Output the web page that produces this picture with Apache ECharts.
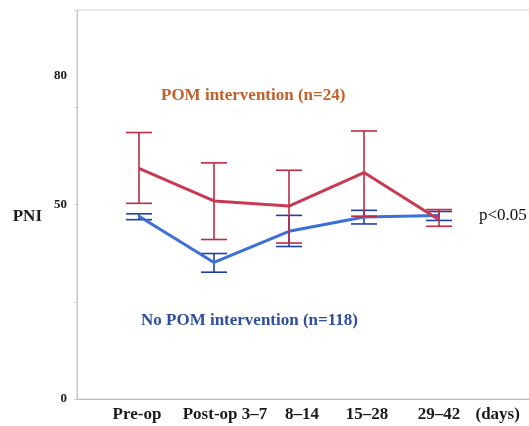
<!DOCTYPE html>
<html>
<head>
<meta charset="utf-8">
<script src="https://cdn.jsdelivr.net/npm/echarts@6/dist/echarts.min.js"></script>
<style>
  html, body { margin: 0; padding: 0; background: #ffffff; }
  #chart { width: 529px; height: 426px; }
</style>
</head>
<body>
<div id="chart"></div>
<script>
// ---- data ----
const categories = ['Pre-op', 'Post-op 3\u20137', '8\u201314', '15\u201328', '29\u201342'];
const pomMean = [59.3, 50.9, 49.6, 58.2, 46.1];
const pomHigh = [68.5, 60.7, 58.8, 68.9, 48.7];
const pomLow  = [50.3, 41.0, 40.1, 47.0, 44.4];
const noPomMean = [47.0, 35.1, 43.1, 46.8, 47.2];
const noPomHigh = [47.6, 37.4, 47.2, 48.5, 48.2];
const noPomLow  = [46.1, 32.6, 39.2, 45.0, 45.9];
const yTickValues = [0, 25, 50, 75, 100];
const yLabelValues = [0, 50, 83];
const yLabelTexts = ['0', '50', '80'];

const SERIF = "'Liberation Serif', 'Times New Roman', serif";
const chart = echarts.init(document.getElementById('chart'), null, { renderer: 'canvas' });

function errorSeries(lows, highs, color, z) {
  return {
    type: 'custom',
    xAxisIndex: 1, yAxisIndex: 1,
    z: z,
    silent: true,
    data: lows.map((lo, i) => [i, lo, highs[i]]),
    renderItem: function (params, api) {
      const i = api.value(0);
      const top = api.coord([i, api.value(2)]);
      const bot = api.coord([i, api.value(1)]);
      const w = 13;
      const st = { stroke: color, lineWidth: 1.6 };
      return {
        type: 'group',
        children: [
          { type: 'line', shape: { x1: top[0], y1: top[1], x2: bot[0], y2: bot[1] }, style: st },
          { type: 'line', shape: { x1: top[0] - w, y1: top[1], x2: top[0] + w, y2: top[1] }, style: st },
          { type: 'line', shape: { x1: bot[0] - w, y1: bot[1], x2: bot[0] + w, y2: bot[1] }, style: st }
        ]
      };
    }
  };
}

const labelShift = [-4, 22, 26, 6, 0];
const rich = {};
labelShift.forEach((s, i) => {
  rich['l' + i] = {
    fontFamily: SERIF, fontWeight: 'bold', fontSize: 17, color: '#1a1a1a',
    padding: s >= 0 ? [0, 0, 0, s] : [0, -s, 0, 0]
  };
});

const option = {
  backgroundColor: '#ffffff',
  animation: false,
  grid: [
    { left: 77, top: 10, right: -6, bottom: 27, show: true, borderColor: '#cfcfcf', borderWidth: 1,
      backgroundColor: 'transparent', outerBoundsMode: 'none', containLabel: false },
    { left: 101.5, top: 10, width: 375, bottom: 27, outerBoundsMode: 'none', containLabel: false }
  ],
  xAxis: [
    { type: 'value', gridIndex: 0, min: 0, max: 1, show: true,
      axisLine: { show: true, lineStyle: { color: '#bdbdbd', width: 1.2 } },
      axisTick: { show: false }, axisLabel: { show: false }, splitLine: { show: false } },
    { type: 'category', gridIndex: 1, data: categories, boundaryGap: true,
      axisLine: { show: false }, axisTick: { show: false }, splitLine: { show: false },
      axisLabel: {
        margin: 7,
        interval: 0,
        formatter: function (v, i) { return '{l' + i + '|' + v + '}'; },
        rich: rich
      },
      name: '{d|(days)}', nameLocation: 'end', nameGap: -1,
      nameTextStyle: { align: 'left', verticalAlign: 'middle',
        rich: { d: { fontFamily: SERIF, fontWeight: 'bold', fontSize: 17, color: '#1a1a1a', lineHeight: 20, padding: [32, 0, 0, 0] } } }
    }
  ],
  yAxis: [
    { type: 'value', gridIndex: 0, min: 0, max: 100,
      axisLine: { show: true, lineStyle: { color: '#c4c4c4', width: 1 } },
      axisTick: { show: true, length: 3, lineStyle: { color: '#d0d0d0' }, customValues: yTickValues },
      splitLine: { show: false },
      axisLabel: {
        margin: 10,
        customValues: yLabelValues,
        formatter: function (v) { const k = yLabelValues.indexOf(v); return k >= 0 ? yLabelTexts[k] : ''; },
        fontFamily: SERIF, fontWeight: 'bold', fontSize: 13, color: '#1a1a1a'
      },
      name: '{p|PNI}', nameLocation: 'middle', nameRotate: 0, nameGap: 35,
      nameTextStyle: { align: 'right', verticalAlign: 'middle',
        rich: { p: { fontFamily: SERIF, fontWeight: 'bold', fontSize: 17, color: '#1a1a1a', lineHeight: 20, padding: [25, 0, 0, 0] } } }
    },
    { type: 'value', gridIndex: 1, min: 0, max: 100, show: false }
  ],
  graphic: [
    { type: 'text', silent: true, style: { x: 161, y: 96, text: 'POM intervention (n=24)', verticalAlign: 'middle',
      font: 'bold 17px ' + SERIF, fill: '#c0612b' } },
    { type: 'text', silent: true, style: { x: 141, y: 321, text: 'No POM intervention (n=118)', verticalAlign: 'middle',
      font: 'bold 17px ' + SERIF, fill: '#2e4f9b' } },
    { type: 'text', silent: true, style: { x: 479, y: 216, text: 'p<0.05', verticalAlign: 'middle',
      font: '17px ' + SERIF, fill: '#111111' } }
  ],
  series: [
    errorSeries(noPomLow, noPomHigh, '#1f3fa8', 3),
    { type: 'line', name: 'No POM intervention (n=118)', xAxisIndex: 1, yAxisIndex: 1, data: noPomMean,
      symbol: 'none', z: 4, lineStyle: { color: '#3b70d6', width: 3 } },
    errorSeries(pomLow, pomHigh, '#bf2a44', 5),
    { type: 'line', name: 'POM intervention (n=24)', xAxisIndex: 1, yAxisIndex: 1, data: pomMean,
      symbol: 'none', z: 6, lineStyle: { color: '#c93a52', width: 3 } }
  ]
};
chart.setOption(option);
</script>
</body>
</html>
